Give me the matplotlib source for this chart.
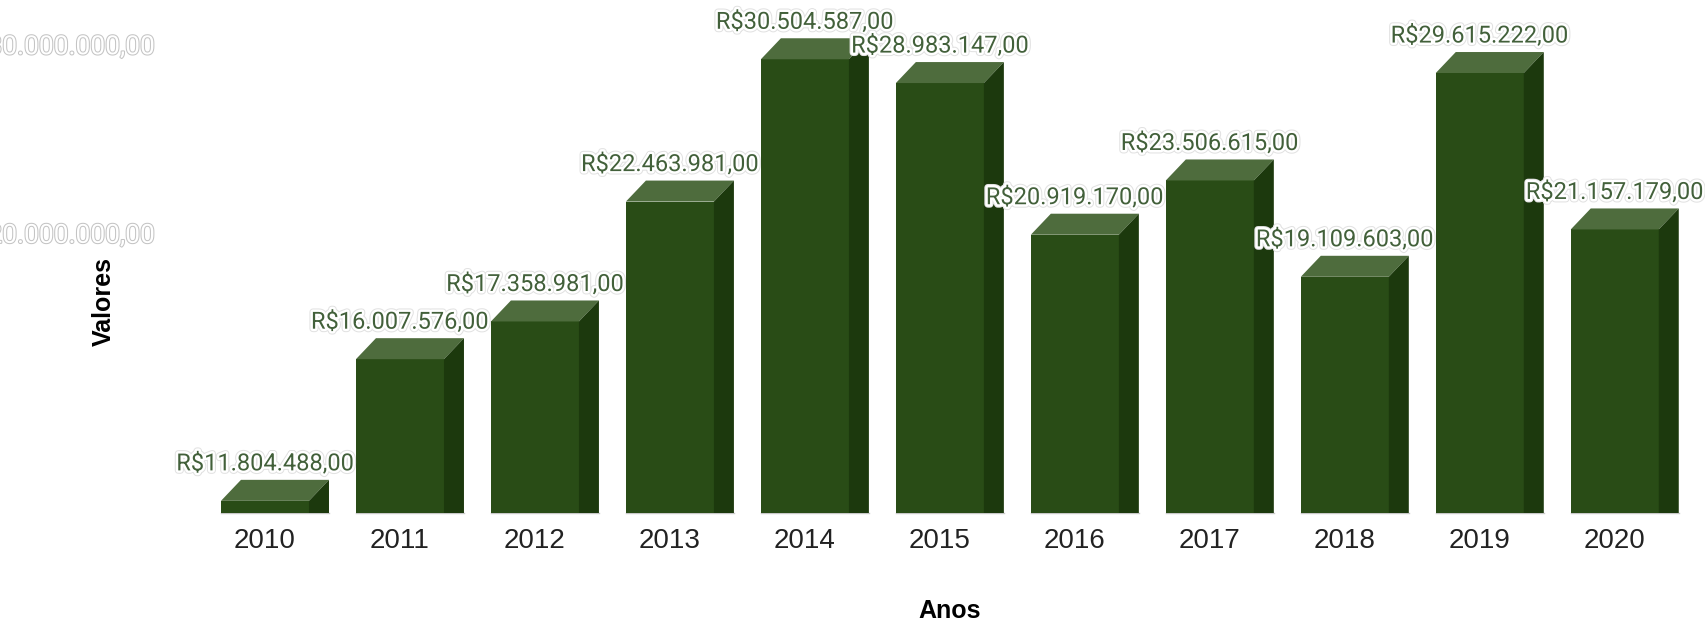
import matplotlib
matplotlib.use('Agg')
import matplotlib.pyplot as plt
import matplotlib.patheffects as pe
from matplotlib.patches import Polygon
from matplotlib.ticker import NullLocator
from matplotlib.transforms import ScaledTranslation

# dados
anos = ['2010', '2011', '2012', '2013', '2014', '2015',
        '2016', '2017', '2018', '2019', '2020']
valores = [11804488, 16007576, 17358981, 22463981, 30504587, 28983147,
           20919170, 23506615, 19109603, 29615222, 21157179]
rotulos = ['R$11.804.488,00', 'R$16.007.576,00', 'R$17.358.981,00',
           'R$22.463.981,00', 'R$30.504.587,00', 'R$28.983.147,00',
           'R$20.919.170,00', 'R$23.506.615,00', 'R$19.109.603,00',
           'R$29.615.222,00', 'R$21.157.179,00']
y_ticks = [20000000, 30000000]
y_tick_labels = ['R$20.000.000,00', 'R$30.000.000,00']

COR_FRENTE = '#294c16'
COR_TOPO = '#4e6c3d'
COR_LADO = '#1c390d'
COR_TEXTO = '#42603a'

W, H, DPI = 1705, 623, 100
fig = plt.figure(figsize=(W / DPI, H / DPI), dpi=DPI)
ax = fig.add_axes([170.5 / W, (H - 513) / H, 1518.5 / W, 476 / H])
ax.set_yscale('log')
ax.set_xlim(-0.7, 10.55)
ax.set_ylim(11.5e6, 32e6)

largura = 0.652
prof_x, prof_y = 20, 21  # profundidade em pixels
base = ax.get_ylim()[0]

xs = list(range(len(anos)))
ax.bar(xs, [v - base for v in valores], bottom=base, width=largura,
       color=COR_FRENTE, zorder=2)

inv = ax.transData.inverted()


def desloca(x, y):
    px, py = ax.transData.transform((x, y))
    return inv.transform((px + prof_x, py + prof_y))


for x, v in zip(xs, valores):
    x0, x1 = x - largura / 2, x + largura / 2
    topo = [(x0, v), (x1, v), tuple(desloca(x1, v)), tuple(desloca(x0, v))]
    lado = [(x1, base), (x1, v), tuple(desloca(x1, v)), tuple(desloca(x1, base))]
    lado[3] = (lado[3][0], base)
    ax.add_patch(Polygon(topo, closed=True, facecolor=COR_TOPO,
                         edgecolor='none', zorder=2))
    ax.add_patch(Polygon(lado, closed=True, facecolor=COR_LADO,
                         edgecolor='none', zorder=2, clip_on=False))
    ax.plot([x0, lado[3][0]], [base, base], color='#c8c8c8',
            lw=1, zorder=1, clip_on=False)

halo = [pe.Stroke(linewidth=5, foreground='#e2e2e2'),
        pe.Stroke(linewidth=3.5, foreground='white'), pe.Normal()]
for x, v, r in zip(xs, valores, rotulos):
    ax.annotate(r, (x, v), xytext=(0, prof_y + 16), textcoords='offset pixels',
                ha='center', va='center', fontsize=17, family='Roboto',
                color=COR_TEXTO, path_effects=halo, zorder=5,
                annotation_clip=False)

ax.set_xticks(xs)
ax.set_xticklabels(anos, fontsize=20, family='Liberation Sans', color='#222222')
ax.tick_params(axis='x', length=0, pad=11)

ax.yaxis.set_minor_locator(NullLocator())
ax.set_yticks(y_ticks)
ax.set_yticklabels(y_tick_labels, fontsize=19, family='Roboto', color='white')
ax.tick_params(axis='y', length=0, pad=11)
for lbl in ax.get_yticklabels():
    lbl.set_path_effects([pe.withStroke(linewidth=1.5, foreground='#c4c4c4')])
    lbl.set_transform(lbl.get_transform() +
                      ScaledTranslation(0, prof_y / DPI + 0.02, fig.dpi_scale_trans))

for s in ax.spines.values():
    s.set_visible(False)

fig.text(950 / W, 1 - 611 / H, 'Anos', ha='center', va='center',
         fontsize=18, fontweight='bold', family='Liberation Sans')
fig.text(104 / W, 1 - 302 / H, 'Valores', ha='center', va='center',
         rotation=90, fontsize=18, fontweight='bold', family='Liberation Sans')

fig.savefig('out.png', dpi=DPI)
